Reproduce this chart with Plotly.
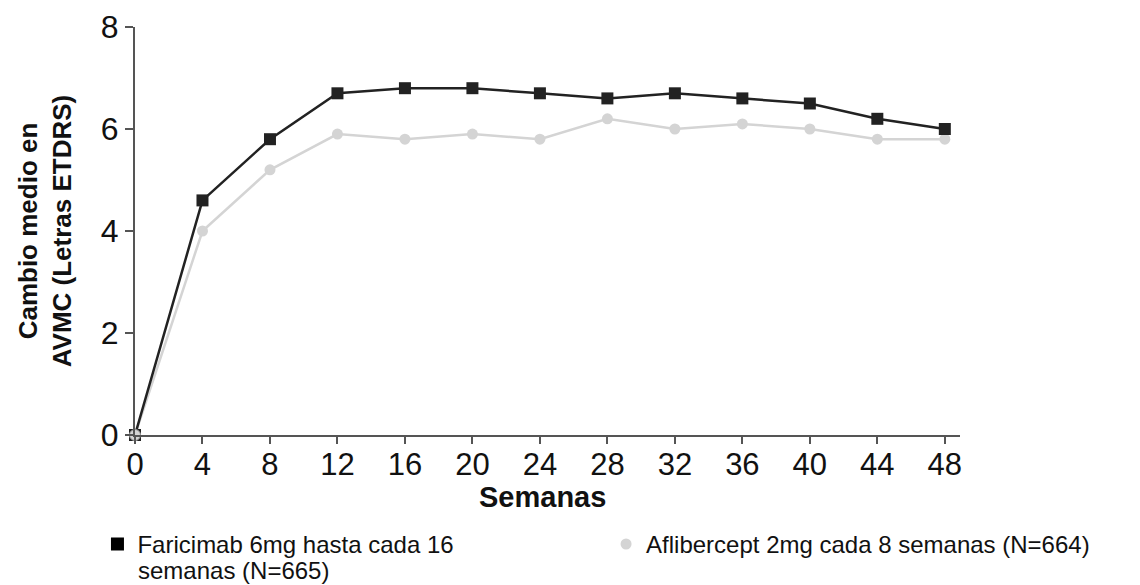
import plotly.graph_objects as go

weeks = [0, 4, 8, 12, 16, 20, 24, 28, 32, 36, 40, 44, 48]
faricimab = [0, 4.6, 5.8, 6.7, 6.8, 6.8, 6.7, 6.6, 6.7, 6.6, 6.5, 6.2, 6.0]
aflibercept = [0, 4.0, 5.2, 5.9, 5.8, 5.9, 5.8, 6.2, 6.0, 6.1, 6.0, 5.8, 5.8]
name_far_1 = "Faricimab 6mg hasta cada 16"
name_far_2 = "semanas (N=665)"
name_afl = "Aflibercept 2mg cada 8 semanas (N=664)"
x_title = "Semanas"
y_title = "Cambio medio en<br>AVMC (Letras ETDRS)"
x_ticks = weeks
y_ticks = [0, 2, 4, 6, 8]

FONT = "Liberation Sans, Arial, sans-serif"
DARK = "#222222"
LIGHT = "#d4d4d4"
TXT = "#111111"

fig = go.Figure()
fig.add_trace(go.Scatter(x=weeks, y=aflibercept, mode="lines+markers",
                         line=dict(color=LIGHT, width=2.5),
                         marker=dict(symbol="circle", size=11, color=LIGHT),
                         showlegend=False, cliponaxis=False))
fig.add_trace(go.Scatter(x=weeks, y=faricimab, mode="lines+markers",
                         line=dict(color=DARK, width=2.5),
                         marker=dict(symbol="square", size=12, color=DARK),
                         showlegend=False, cliponaxis=False))
fig.add_trace(go.Scatter(x=weeks[:1], y=aflibercept[:1], mode="markers",
                         marker=dict(symbol="circle", size=11, color=LIGHT,
                                     line=dict(color="#999", width=1)),
                         showlegend=False, cliponaxis=False))
# legend entries
fig.add_trace(go.Scatter(x=[None], y=[None], mode="markers", name=name_far_1,
                         marker=dict(symbol="square", size=13, color="black"),
                         legend="legend"))
fig.add_trace(go.Scatter(x=[None], y=[None], mode="markers", name=name_afl,
                         marker=dict(symbol="circle", size=11, color=LIGHT),
                         legend="legend2"))

LEG_FONT = dict(size=24, family=FONT, color=TXT)
fig.update_layout(
    width=1140, height=585,
    margin=dict(l=135, r=180, t=27, b=150, autoexpand=False),
    plot_bgcolor="white", paper_bgcolor="white",
    font=dict(family=FONT, color=TXT),
    legend=dict(x=-0.0455, y=-0.213, xanchor="left", yanchor="top",
                font=LEG_FONT, itemsizing="trace", bgcolor="rgba(0,0,0,0)"),
    legend2=dict(x=0.571, y=-0.213, xanchor="left", yanchor="top",
                 font=LEG_FONT, itemsizing="trace", bgcolor="rgba(0,0,0,0)"),
    annotations=[
        dict(text=name_far_2, xref="paper", yref="paper",
             x=(136 - 135) / 825, y=-(555 - 435) / 408,
             xanchor="left", yanchor="top", showarrow=False, font=LEG_FONT),
        dict(text="<b>" + x_title + "</b>", xref="paper", yref="paper",
             x=(542 - 135) / 825, y=-(497 - 435) / 408,
             xanchor="center", yanchor="middle", showarrow=False,
             font=dict(size=29, family=FONT, color=TXT)),
    ],
)
fig.update_xaxes(range=[0, 48.9], tickvals=x_ticks, ticktext=[str(v) for v in x_ticks],
                 showgrid=False, zeroline=False, showline=True, linecolor="#555", linewidth=2,
                 ticks="outside", ticklen=7, tickcolor="#555", tickwidth=1.5,
                 ticklabelstandoff=-6,
                 tickfont=dict(size=31, family=FONT, color=TXT))
fig.update_yaxes(range=[0, 8], tickvals=y_ticks,
                 showgrid=False, zeroline=False, showline=True, linecolor="#555", linewidth=2,
                 ticks="outside", ticklen=8, tickcolor="#555", tickwidth=1.5,
                 tickfont=dict(size=32, family=FONT, color=TXT),
                 title=dict(text="<b>" + y_title + "</b>",
                            font=dict(size=26, family=FONT, color=TXT), standoff=22))

fig.write_html("out.html", config={"displayModeBar": False},
               post_script="document.body.style.margin='0';")
